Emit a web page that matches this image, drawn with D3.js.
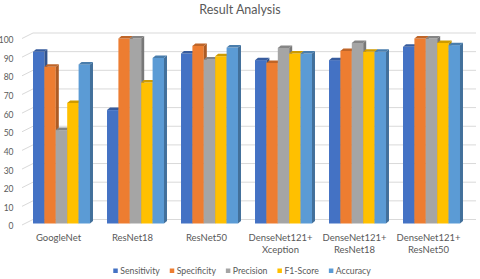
<!DOCTYPE html>
<html>
<head>
<meta charset="utf-8">
<script src="https://cdn.jsdelivr.net/npm/d3@7"></script>
<style>
  body { margin: 0; background: #fff; }
  text { font-family: Lato, "Liberation Sans", sans-serif; fill: #595959; }
</style>
</head>
<body>
<div id="chart"></div>
<script>
var categories = [["GoogleNet"], ["ResNet18"], ["ResNet50"], ["DenseNet121+", "Xception"], ["DenseNet121+", "ResNet18"], ["DenseNet121+", "ResNet50"]];
var seriesNames = ["Sensitivity", "Specificity", "Precision", "F1-Score", "Accuracy"];
var colors = ["#4472C4", "#ED7D31", "#A5A5A5", "#FFC000", "#5B9BD5"];
var sensitivity = [92.8, 61.3, 91.9, 88.3, 88.3, 95.5];
var specificity = [84.7, 100, 96.0, 86.8, 93.3, 100];
var precision = [50.5, 100, 88.7, 94.9, 97.6, 100];
var f1Score = [65.2, 76.2, 90.4, 91.9, 92.8, 97.6];
var accuracy = [86.0, 89.5, 95.1, 91.9, 92.8, 96.4];
var yTicks = [0, 10, 20, 30, 40, 50, 60, 70, 80, 90, 100];

var series = [sensitivity, specificity, precision, f1Score, accuracy];

var width = 480, height = 279;
var svg = d3.select("#chart").append("svg")
    .attr("width", width)
    .attr("height", height);

// 3D offsets
var wallDx = 11, wallDy = 5.5;
var barDx = 3, barDy = 2.5;

var yFront = d3.scaleLinear().domain([0, 100]).range([225, 38.5]);
var yBar = d3.scaleLinear().domain([0, 100]).range([223.5, 38.5]);

var x = d3.scaleBand()
    .domain(d3.range(categories.length))
    .range([24.5, 468.5])
    .paddingInner(0.23)
    .paddingOuter(0.115);

var xs = d3.scaleBand()
    .domain(d3.range(seriesNames.length))
    .range([0, x.bandwidth()]);

var frontLeft = 22, backRight = 476;

// gridlines (slant + back wall)
var grid = svg.append("g");
yTicks.forEach(function(t) {
    var yf = yFront(t);
    grid.append("path")
        .attr("d", "M" + frontLeft + "," + yf +
                   "L" + (frontLeft + wallDx) + "," + (yf - wallDy) +
                   "L" + backRight + "," + (yf - wallDy))
        .attr("fill", "none")
        .attr("stroke", "#D9D9D9")
        .attr("stroke-width", 1);
});

// y labels
svg.append("g").selectAll("text")
    .data(yTicks)
    .enter()
        .append("text")
        .attr("x", 13.5)
        .attr("y", function(d) { return yFront(d) + 1.5; })
        .attr("dy", "0.35em")
        .attr("text-anchor", "end")
        .style("font-size", "8.5px")
        .text(function(d) { return d; });

// bars
var bars = svg.append("g");
categories.forEach(function(cat, i) {
    series.forEach(function(vals, s) {
        var v = vals[i];
        var x0 = x(i) + xs(s);
        var w = xs.bandwidth();
        var yt = yBar(v), yb = yBar(0);
        var c = d3.color(colors[s]);
        var g = bars.append("g");
        g.append("rect")
            .attr("x", x0).attr("y", yt)
            .attr("width", w).attr("height", yb - yt)
            .attr("fill", colors[s]);
        g.append("path")
            .attr("d", "M" + (x0 + w) + "," + yt +
                       "L" + (x0 + w + barDx) + "," + (yt - barDy) +
                       "L" + (x0 + w + barDx) + "," + (yb - barDy) +
                       "L" + (x0 + w) + "," + yb + "Z")
            .attr("fill", c.darker(0.9).toString());
        g.append("path")
            .attr("d", "M" + x0 + "," + yt +
                       "L" + (x0 + barDx) + "," + (yt - barDy) +
                       "L" + (x0 + w + barDx) + "," + (yt - barDy) +
                       "L" + (x0 + w) + "," + yt + "Z")
            .attr("fill", c.darker(0.6).toString());
        g.append("title").text(seriesNames[s] + ": " + v);
    });
});

// category labels
var catG = svg.append("g");
categories.forEach(function(lines, i) {
    var t = catG.append("text")
        .attr("x", x(i) + x.bandwidth() / 2 - 3)
        .attr("y", 241)
        .attr("text-anchor", "middle")
        .style("font-size", "9.5px");
    lines.forEach(function(l, k) {
        t.append("tspan")
            .attr("x", x(i) + x.bandwidth() / 2 - 3)
            .attr("dy", k == 0 ? 0 : 12)
            .text(l);
    });
});

// legend
var legend = svg.append("g");
var items = [];
var totalW = 0;
seriesNames.forEach(function(name, s) {
    var g = legend.append("g");
    g.append("rect")
        .attr("width", 4.5).attr("height", 4.5)
        .attr("y", -2.5)
        .attr("fill", colors[s]);
    var t = g.append("text")
        .attr("x", 7)
        .attr("dy", "0.35em")
        .style("font-size", "8.7px")
        .text(name);
    var w = 7 + t.node().getComputedTextLength();
    items.push({g: g, w: w});
    totalW += w;
});
var gap = 10;
totalW += gap * (items.length - 1);
var lx = 242 - totalW / 2;
items.forEach(function(it) {
    it.g.attr("transform", "translate(" + lx + ",271)");
    lx += it.w + gap;
});

// title
svg.append("text")
    .attr("x", 240)
    .attr("y", 14)
    .attr("text-anchor", "middle")
    .style("font-size", "12.5px")
    .text("Result Analysis");
</script>
</body>
</html>
